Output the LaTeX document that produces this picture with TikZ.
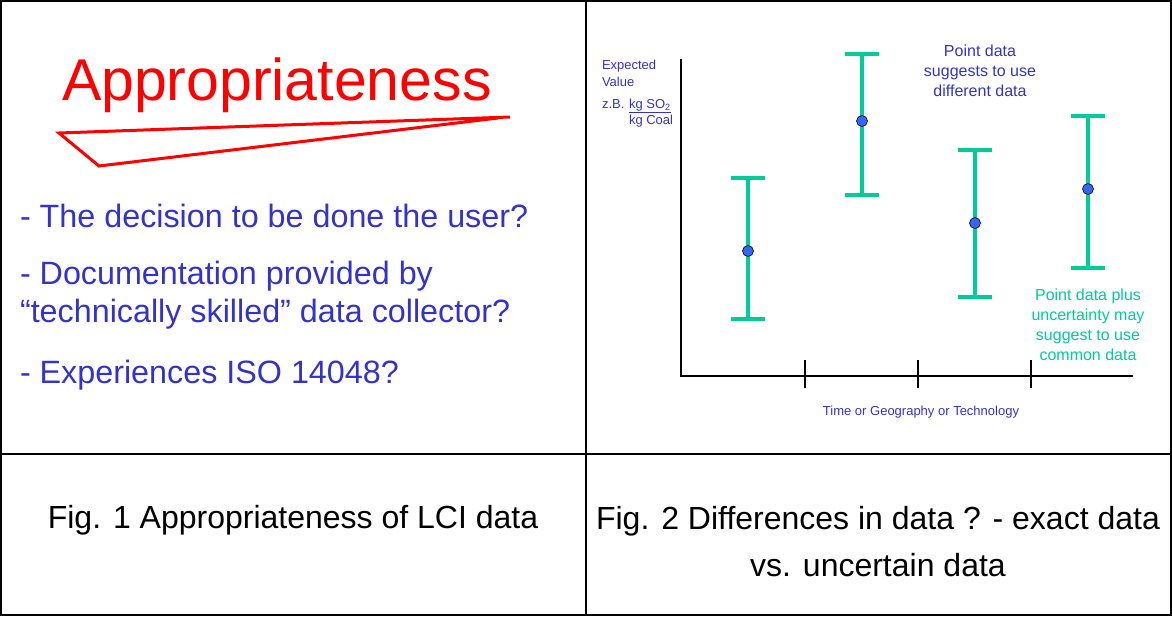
\documentclass[tikz,border=0pt]{standalone}
\usepackage{fontspec}
\setmainfont{Liberation Sans}
\usetikzlibrary{positioning}
\definecolor{slideblue}{RGB}{51,51,204}
\definecolor{barteal}{RGB}{0,204,153}
\definecolor{dotblue}{RGB}{51,102,255}

\begin{document}
\begin{tikzpicture}[x=1pt,y=-1pt, every node/.style={inner sep=0pt,outer sep=0pt}, grid/.style={line width=2pt,black}, bullet/.style={text=slideblue,font=\fontsize{32.3}{38}\selectfont,anchor=base west}, caption/.style={font=\fontsize{32}{38}\selectfont,anchor=base}, axis/.style={line width=2.5pt,black}, bar/.style={line width=4pt,barteal}, dot/.style={circle,draw=black,line width=0.6pt,fill=dotblue,minimum size=11pt}, small/.style={text=slideblue,font=\fontsize{13}{15}\selectfont,anchor=base west}, note/.style={font=\fontsize{16}{20}\selectfont,align=center,anchor=north}]
\useasboundingbox (0,0) rectangle (1172,616);
% table
\draw[grid] (1,1) rectangle (1171,615);
\draw[grid] (1,454)--(1171,454);
\draw[grid] (586,1)--(586,615);
% left panel
\node[anchor=base west,text=red,font=\fontsize{59}{70}\selectfont] (title) at (62,100) {Appropriateness};
\draw[red,line width=3pt,line join=miter] (510,117)--(59,133)--(99,166)--(498,118);
\node[bullet] (q1) at (20,227) {- The decision to be done the user?};
\node[bullet] (q2) at (20,284) {- Documentation provided by};
\node[bullet] (q2b) at (20,322) {“technically skilled” data collector?};
\node[bullet] (q3) at (20,383) {- Experiences ISO 14048?};
% right panel: axes
\coordinate (origin) at (681,376);
\coordinate (ytop) at (681,59);
\coordinate (xend) at (1133,376);
\draw[axis] (ytop)--(origin)--(xend);
\draw[axis] (805,360)--(805,388);
\draw[axis] (918,360)--(918,388);
\draw[axis] (1031,360)--(1031,388);
\node[small] (ylab1) at (602,69) {Expected};
\node[small] (ylab2) at (602,86) {Value};
\node[small] (zb) at (602,108) {z.B.};
\node[small] (num) at (629,108) {\underline{kg SO\textsubscript{2}}};
\node[small] (den) at (629,124) {kg Coal};
\node[small,anchor=base] (xlab) at (921,415) {Time or Geography or Technology};
% error bars
\draw[bar] (748,178)--(748,319); \draw[bar] (731,178)--(765,178); \draw[bar] (731,319)--(765,319);
\draw[bar] (862,54)--(862,195); \draw[bar] (845,54)--(879,54); \draw[bar] (845,195)--(879,195);
\draw[bar] (975,150)--(975,297); \draw[bar] (958,150)--(992,150); \draw[bar] (958,297)--(992,297);
\draw[bar] (1088,116)--(1088,268); \draw[bar] (1071,116)--(1105,116); \draw[bar] (1071,268)--(1105,268);
\node[dot] (p1) at (748,251) {};
\node[dot] (p2) at (862,121) {};
\node[dot] (p3) at (975,223) {};
\node[dot] (p4) at (1088,189) {};
\node[note,text=slideblue] (pointnote) at (980,45) {Point data\\suggests to use\\different data};
\node[note,text=barteal] (uncnote) at (1088,289) {Point data plus\\uncertainty may\\suggest to use\\common data};
% captions
\node[caption] (cap1) at (293,528) {Fig. 1 Appropriateness of LCI data};
\node[caption] (cap2) at (878,529) {Fig. 2 Differences in data ? - exact data};
\node[caption] (cap2b) at (878,576) {vs. uncertain data};
\end{tikzpicture}
\end{document}
